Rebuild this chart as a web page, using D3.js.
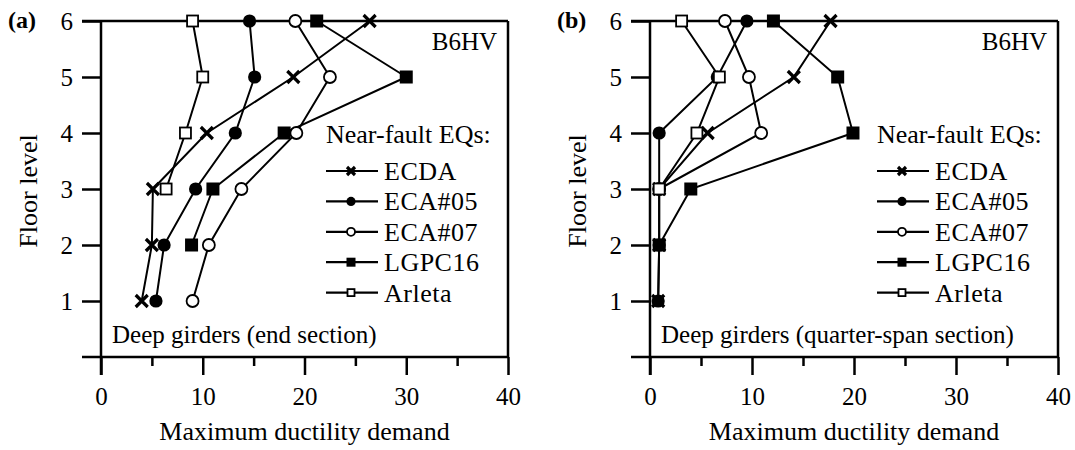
<!DOCTYPE html>
<html lang="en">
<head>
<meta charset="utf-8">
<title>Maximum ductility demand - B6HV</title>
<script src="https://cdn.jsdelivr.net/npm/d3@7/dist/d3.min.js"></script>
<style>
  body { margin: 0; background: #fff; }
  svg text { font-family: "Liberation Serif", "Tinos", "Times New Roman", "DejaVu Serif", serif !important; fill: #000; }
</style>
</head>
<body>
<svg id="chart" width="1075" height="450"></svg>
<script>
// floors on the y axis
var floors = [1, 2, 3, 4, 5, 6];
var seriesNames = ["ECDA", "ECA#05", "ECA#07", "LGPC16", "Arleta"];
var seriesMarks = ["cross", "dot", "ring", "square", "box"];
var xTicks = [0, 10, 20, 30, 40];
var yTicks = [1, 2, 3, 4, 5, 6];

// (a) end section, one value per floor (null = not plotted)
var endECDA   = [4.0, 5.0, 5.1, 10.4, 18.9, 26.4];
var endECA05  = [5.4, 6.2, 9.3, 13.2, 15.1, 14.6];
var endECA07  = [9.0, 10.6, 13.8, 19.2, 22.5, 19.1];
var endLGPC16 = [null, 8.9, 11.0, 18.0, 30.0, 21.2];
var endArleta = [null, null, 6.4, 8.3, 10.0, 9.0];

// (b) quarter-span section
var qECDA   = [0.8, 0.9, 0.9, 5.65, 14.1, 17.7];
var qECA05  = [0.8, 0.9, 0.9, 0.9, 6.6, 9.5];
var qECA07  = [null, null, 0.9, 10.9, 9.7, 7.35];
var qLGPC16 = [null, 0.9, 4.0, 19.9, 18.4, 12.1];
var qArleta = [null, null, 0.9, 4.6, 6.8, 3.1];

var svg = d3.select("#chart");
var FS = 25;

var panels = [
  { tag: "(a)", left: 101, right: 508, note: "Deep girders (end section)",
    values: [endECDA, endECA05, endECA07, endLGPC16, endArleta], legX: 326 },
  { tag: "(b)", left: 650, right: 1058, note: "Deep girders (quarter-span section)",
    values: [qECDA, qECA05, qECA07, qLGPC16, qArleta], legX: 877 }
];

var y = d3.scaleLinear().domain([0, 6]).range([357, 21]);

// draws one marker symbol centred at 0,0
function marker(sel, kind, s) {
  if (kind == "cross") {
    sel.append("path")
      .attr("d", "M" + -s + "," + -s + "L" + s + "," + s + "M" + -s + "," + s + "L" + s + "," + -s)
      .attr("stroke", "#000").attr("stroke-width", 3.2).attr("fill", "none");
  } else if (kind == "dot") {
    sel.append("circle").attr("r", s + 0.6).attr("fill", "#000");
  } else if (kind == "ring") {
    sel.append("circle").attr("r", s).attr("fill", "#fff")
      .attr("stroke", "#000").attr("stroke-width", 1.8);
  } else if (kind == "square") {
    sel.append("rect").attr("x", -s - 0.5).attr("y", -s - 0.5)
      .attr("width", 2 * s + 1).attr("height", 2 * s + 1).attr("fill", "#000");
  } else {
    sel.append("rect").attr("x", -s + 0.5).attr("y", -s + 0.5)
      .attr("width", 2 * s - 1).attr("height", 2 * s - 1).attr("fill", "#fff")
      .attr("stroke", "#000").attr("stroke-width", 1.8);
  }
}

panels.forEach(function(p) {
  var x = d3.scaleLinear().domain([0, 40]).range([p.left, p.right]);
  var g = svg.append("g");

  // frame: top and bottom lines stick out to the left like ticks
  g.append("line").attr("x1", p.left - 19).attr("x2", p.right)
    .attr("y1", y(6)).attr("y2", y(6)).attr("stroke", "#000").attr("stroke-width", 2.5);
  g.append("line").attr("x1", p.right).attr("x2", p.right)
    .attr("y1", y(6)).attr("y2", y(0)).attr("stroke", "#000").attr("stroke-width", 2.5);

  // x axis
  var xAxis = d3.axisBottom(x).tickValues(d3.range(0, 41, 5))
    .tickSize(18).tickFormat(function(d) { return xTicks.indexOf(d) >= 0 ? d : ""; });
  var gx = g.append("g").attr("transform", "translate(0," + y(0) + ")").call(xAxis);
  gx.select(".domain").remove();
  gx.selectAll(".tick line").attr("stroke-width", 2.5)
    .attr("y2", function(d) { return d % 10 == 0 ? 18 : 9; });
  gx.selectAll(".tick text").attr("y", 30).attr("dy", "0.71em")
    .style("font-size", FS + "px");
  g.append("line").attr("x1", p.left - 19).attr("x2", p.right)
    .attr("y1", y(0)).attr("y2", y(0)).attr("stroke", "#000").attr("stroke-width", 2.5);

  // y axis
  var yAxis = d3.axisLeft(y).tickValues(yTicks).tickSize(19).tickPadding(9)
    .tickFormat(d3.format("d"));
  var gy = g.append("g").attr("transform", "translate(" + p.left + ",0)").call(yAxis);
  gy.select(".domain").remove();
  gy.selectAll(".tick line").attr("stroke-width", 2.5);
  gy.selectAll(".tick text").attr("dy", "0.34em")
    .style("font-size", FS + "px");
  g.append("line").attr("x1", p.left).attr("x2", p.left)
    .attr("y1", y(6)).attr("y2", y(0) + 18).attr("stroke", "#000").attr("stroke-width", 2.5);

  // titles
  g.append("text").attr("x", (p.left + p.right) / 2).attr("y", 440)
    .attr("text-anchor", "middle").style("font-size", (FS + 1) + "px")
    .text("Maximum ductility demand");
  g.append("text").attr("transform", "translate(" + (p.left - 64) + "," + (y(3) + 2) + ") rotate(-90)")
    .attr("text-anchor", "middle").style("font-size", (FS + 1) + "px")
    .text("Floor level");
  g.append("text").attr("x", p.left - 93).attr("y", 28)
    .style("font-size", "24px").style("font-weight", "bold")
    .text(p.tag);
  g.append("text").attr("x", p.right - 11).attr("y", 50)
    .attr("text-anchor", "end").style("font-size", FS + "px").text("B6HV");
  g.append("text").attr("x", p.left + 11).attr("y", 343)
    .style("font-size", FS + "px").text(p.note);

  // series lines then markers
  var line = d3.line()
    .defined(function(d) { return d[0] != null; })
    .x(function(d) { return x(d[0]); })
    .y(function(d) { return y(d[1]); });

  p.values.forEach(function(vals, i) {
    var pts = vals.map(function(v, k) { return [v, floors[k]]; });
    g.append("path").datum(pts).attr("d", line)
      .attr("fill", "none").attr("stroke", "#000").attr("stroke-width", 2);
  });
  p.values.forEach(function(vals, i) {
    vals.forEach(function(v, k) {
      if (v == null) return;
      var m = g.append("g").attr("transform", "translate(" + x(v) + "," + y(floors[k]) + ")");
      marker(m, seriesMarks[i], 6);
    });
  });

  // legend
  var lg = g.append("g");
  lg.append("text").attr("x", p.legX).attr("y", 143)
    .style("font-size", (FS + 1) + "px").text("Near-fault EQs:");
  seriesNames.forEach(function(name, i) {
    var cy = 171 + i * 30.4;
    lg.append("line").attr("x1", p.legX).attr("x2", p.legX + 52)
      .attr("y1", cy).attr("y2", cy).attr("stroke", "#000").attr("stroke-width", 2.2);
    var m = lg.append("g").attr("transform", "translate(" + (p.legX + 25) + "," + cy + ")");
    marker(m, seriesMarks[i], 4);
    lg.append("text").attr("x", p.legX + 58).attr("y", cy + 9)
      .style("font-size", (FS + 1) + "px").style("letter-spacing", "0.5px").text(name);
  });
});
</script>
</body>
</html>
